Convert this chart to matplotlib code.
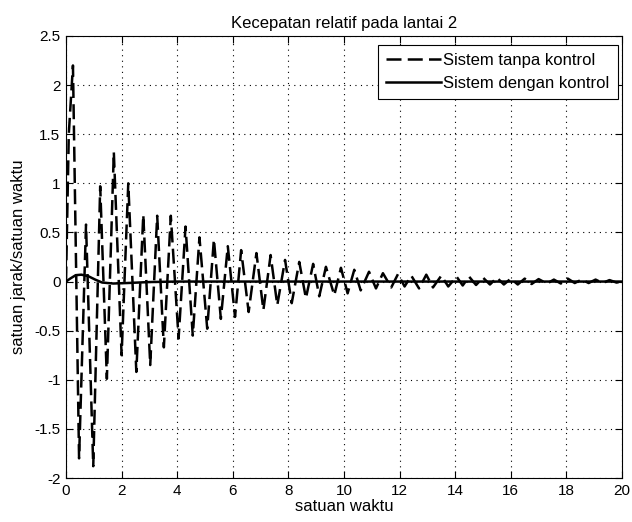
import matplotlib
matplotlib.use("Agg")
import matplotlib.pyplot as plt
from matplotlib.ticker import MultipleLocator, FuncFormatter

plt.rcParams['font.family'] = ['Liberation Sans', 'DejaVu Sans']
plt.rcParams['axes.unicode_minus'] = False

# Dashed series (no control): extrema
t_tanpa = [0, 0.1, 0.25, 0.47, 0.72, 0.98, 1.23, 1.47, 1.72, 2.0, 2.24, 2.53, 2.78,
           3.03, 3.28, 3.52, 3.77, 4.05, 4.3, 4.56, 4.8, 5.08, 5.32, 5.57, 5.82,
           6.08, 6.3, 6.57, 6.85, 7.1, 7.36, 7.6, 7.88, 8.12, 8.39, 8.63, 8.89,
           9.11, 9.35, 9.65, 9.89, 10.13, 10.37, 10.6, 10.9, 11.15, 11.4, 11.7,
           11.94, 12.18, 12.42, 12.7, 12.96, 13.2, 13.5, 13.75, 14.05, 14.27,
           14.5, 14.75, 15.0, 15.25, 15.5, 15.75, 16.0, 16.25, 16.5, 16.75,
           17.0, 17.3, 17.55, 17.8, 18.05, 18.3, 18.55, 18.8, 19.05, 19.3,
           19.55, 19.8, 20.0]
v_tanpa = [0, 1.5, 2.2, -1.8, 0.58, -1.88, 0.97, -0.99, 1.32, -0.75, 1.0, -0.92, 0.68,
           -0.85, 0.67, -0.67, 0.67, -0.58, 0.56, -0.55, 0.45, -0.48, 0.43, -0.38, 0.36,
           -0.36, 0.32, -0.31, 0.29, -0.29, 0.27, -0.24, 0.22, -0.22, 0.2, -0.17, 0.18,
           -0.15, 0.15, -0.14, 0.14, -0.12, 0.12, -0.09, 0.10, -0.07, 0.085, -0.06,
           0.075, -0.05, 0.06, -0.07, 0.07, -0.06, 0.06, -0.05, 0.05, -0.04,
           0.05, -0.035, 0.04, -0.03, 0.04, -0.03, 0.03, -0.03, 0.03, -0.025,
           0.025, -0.02, 0.02, -0.02, 0.03, -0.015, 0.02, -0.015, 0.02, -0.015,
           0.015, -0.01, 0.0]

# Solid series (with control)
t_dengan = [0, 0.15, 0.35, 0.55, 0.8, 1.05, 1.3, 1.7, 2.2, 3.0, 4.0, 20.0]
v_dengan = [0, 0.03, 0.065, 0.07, 0.055, 0.02, -0.01, -0.02, -0.015, -0.005, 0, 0]

labels = ['Sistem tanpa kontrol', 'Sistem dengan kontrol']
title = 'Kecepatan relatif pada lantai 2'
xlabel = 'satuan waktu'
ylabel = 'satuan jarak/satuan waktu'

FS = 12
TFS = 11

fig = plt.figure(figsize=(6.32, 5.22), dpi=100)
ax = fig.add_axes([66/632, 1-478/522, (622-66)/632, (478-36)/522])

ax.plot(t_tanpa, v_tanpa, color='black', lw=1.8, linestyle='--', dashes=(6.0, 2.5),
        label=labels[0])
ax.plot(t_dengan, v_dengan, color='black', lw=1.8, label=labels[1])

ax.set_xlim(0, 20)
ax.set_ylim(-2, 2.5)
ax.xaxis.set_major_locator(MultipleLocator(2))
ax.yaxis.set_major_locator(MultipleLocator(0.5))
fmt = FuncFormatter(lambda v, p: '%g' % round(v, 6))
ax.xaxis.set_major_formatter(fmt)
ax.yaxis.set_major_formatter(fmt)
ax.grid(True, color='black', linestyle=(0, (1, 4)), linewidth=0.8)
ax.tick_params(direction='in', top=True, right=True, length=5, labelsize=TFS, width=0.8,
               pad=4)
for s in ax.spines.values():
    s.set_linewidth(0.8)

ax.set_title(title, fontsize=FS, pad=6)
ax.set_xlabel(xlabel, fontsize=FS, labelpad=1)
ax.set_ylabel(ylabel, fontsize=FS, labelpad=6)

leg = ax.legend(loc='upper right', bbox_to_anchor=((618-66)/556, (478-45)/442),
                borderaxespad=0, fontsize=FS, handlelength=3.3, handletextpad=0.15,
                fancybox=False, framealpha=1, edgecolor='black', borderpad=0.5,
                labelspacing=0.45)
leg.get_frame().set_linewidth(0.8)

fig.savefig('out.png', dpi=100, facecolor='white')
